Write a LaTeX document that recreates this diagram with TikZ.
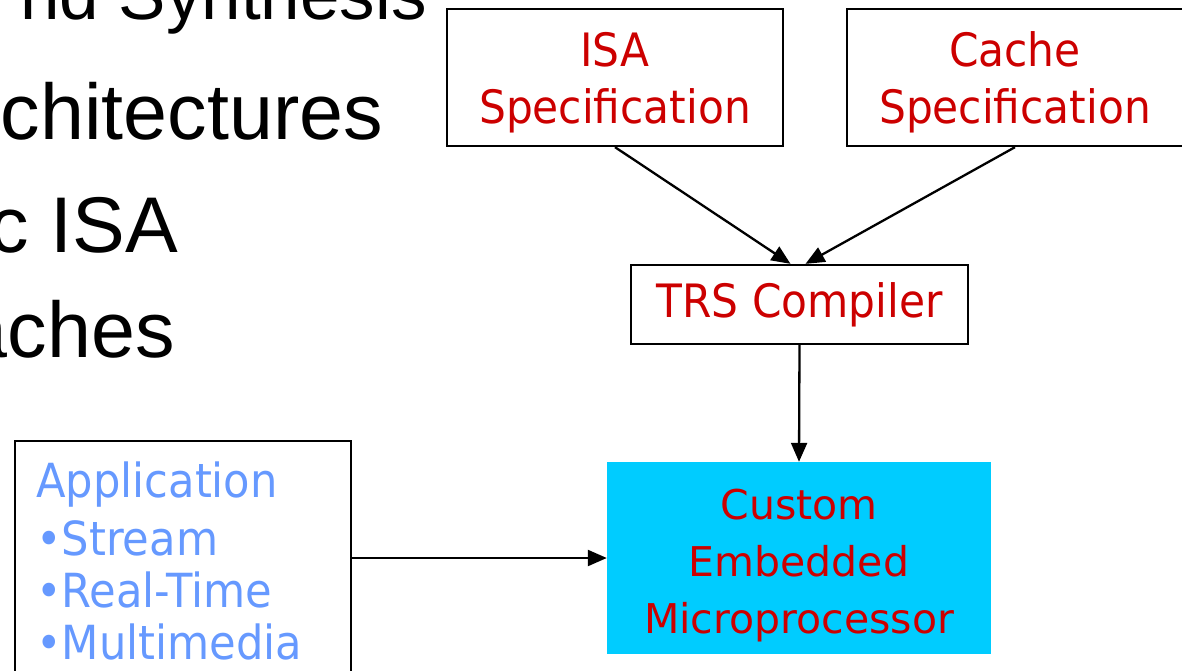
\documentclass[tikz,border=0pt]{standalone}
\usepackage{fontspec}
\usepackage{xcolor}
\usepackage{tikz}
\usetikzlibrary{positioning,arrows.meta}

\newfontfamily\slidefont{Liberation Sans}
\newfontfamily\specfont{DejaVu Sans}[FakeStretch=0.92]
\newfontfamily\chipfont{DejaVu Sans}

\definecolor{specred}{HTML}{CC0000}
\definecolor{appblue}{HTML}{6699FF}
\definecolor{chipcyan}{HTML}{00CCFF}

\begin{document}
\begin{tikzpicture}[x=1pt,y=-1pt,
        box/.style={draw,line width=2.3pt,rectangle,inner sep=0pt,text=specred,align=center,
            font=\specfont\fontsize{46}{57}\selectfont},
        slide/.style={anchor=base east,inner sep=0pt,font=\slidefont\fontsize{79}{90}\selectfont},
        flow/.style={line width=2.3pt,-{Triangle[length=19pt,width=16pt]}}]
    \useasboundingbox (0,0) rectangle (1182,671);
    \clip (0,0) rectangle (1182,671);
    % what is left of the slide text
    \node (line1) [slide,font=\slidefont\fontsize{71}{90}\selectfont] at (427,20) {nd Synthesis};
    \node (line2) [slide] at (383,140) {chitectures};
    \node (line3) [slide] at (178,252) {c ISA};
    \node (line4) [slide] at (175,357) {aches};
    % flow
    \node (isa) [box,minimum width=336pt,minimum height=137pt] at (615,77.5)
        {\rule{0pt}{45pt}ISA \\ Specification};
    \node (cache) [box,minimum width=336pt,minimum height=137pt] at (1015,77.5)
        {\rule{0pt}{45pt}Cache \\ Specification};
    \node (trs) [box,minimum width=337pt,minimum height=79pt] at (799.5,304.5) {TRS Compiler};
    \node (chip) [rectangle,fill=chipcyan,inner sep=0pt,minimum width=384pt,minimum height=192pt,
        text=specred,align=center,font=\chipfont\fontsize{41}{57}\selectfont]
        at (799,558) {\rule{0pt}{45pt}Custom \\ Embedded \\ Microprocessor};
    \node (app) [draw,line width=2.3pt,rectangle,inner sep=0pt,minimum width=336pt,minimum height=250pt] at (183,566) {};
    \node (apptext) [anchor=north west,inner sep=0pt,text=appblue,align=left,
        font=\specfont\fontsize{47}{52}\selectfont] at (36,462)
        {Application \\[6pt] \textbullet Stream \\ \textbullet Real-Time \\ \textbullet Multimedia};
    \draw [flow] (isa.south) -- ([xshift=-9pt]trs.north);
    \draw [flow] (cache.south) -- ([xshift=6pt]trs.north);
    \draw [flow] (trs.south) -- (chip.north);
    \draw [flow] (app.east |- chip.west) -- (chip.west);
\end{tikzpicture}
\end{document}
